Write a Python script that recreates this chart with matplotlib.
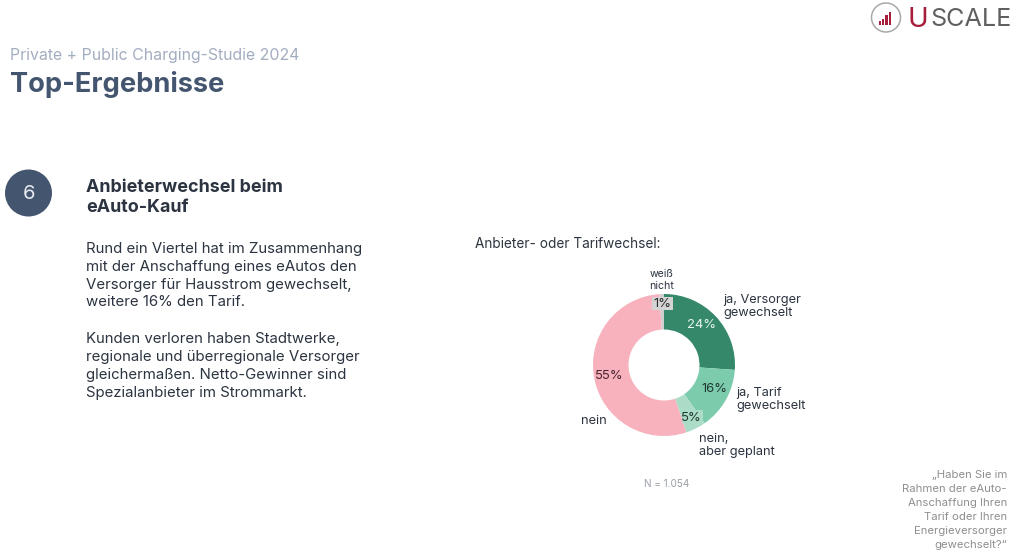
import matplotlib
matplotlib.use("Agg")
import matplotlib.pyplot as plt
from matplotlib.patches import Circle, Rectangle

plt.rcParams['font.family'] = ['Inter', 'DejaVu Sans']

W, H = 1024, 559
categories = ["ja, Versorger\ngewechselt", "ja, Tarif\ngewechselt", "nein,\naber geplant", "nein", "weiß\nnicht"]
percent_labels = ["24%", "16%", "5%", "55%", "1%"]
# slice sizes as drawn in the picture (share of the ring)
drawn_shares = [26.1, 14.2, 4.6, 54.1, 1.0]
colors = ["#35896a", "#7ccbad", "#abdcc8", "#f7b2be", "#cfcfcf"]
logo_bars = [3, 5, 8, 11]

fig = plt.figure(figsize=(W / 100, H / 100), dpi=100, facecolor="white")
bg = fig.add_axes([0, 0, 1, 1])
bg.set_xlim(0, W)
bg.set_ylim(H, 0)
bg.axis("off")
bg.set_zorder(5)

dark = "#2b3440"
slate = "#44566f"

# Header
bg.text(10, 55.5, "Private + Public Charging-Studie 2024", fontsize=11.4, color="#a3adc0", va="center")
bg.text(10, 85, "Top-Ergebnisse", fontsize=19.6, color=slate, fontweight="bold", va="center")

# Number badge
bg.add_patch(Circle((28.5, 193), 23.5, facecolor=slate, edgecolor="none"))
bg.text(28.5, 194, "6", fontsize=14.5, color="#e8ecf2", ha="center", va="center")

# Left text block
bg.text(86.5, 187, "Anbieterwechsel beim", fontsize=12.9, fontweight="bold", color=dark, va="center")
bg.text(86.5, 207, "eAuto-Kauf", fontsize=12.9, fontweight="bold", color=dark, va="center")
para = ["Rund ein Viertel hat im Zusammenhang",
        "mit der Anschaffung eines eAutos den",
        "Versorger für Hausstrom gewechselt,",
        "weitere 16% den Tarif.",
        "",
        "Kunden verloren haben Stadtwerke,",
        "regionale und überregionale Versorger",
        "gleichermaßen. Netto-Gewinner sind",
        "Spezialanbieter im Strommarkt."]
for i, line in enumerate(para):
    bg.text(86.5, 248.5 + i * 18, line, fontsize=10.78, color=dark, va="center")

bg.text(475, 244, "Anbieter- oder Tarifwechsel:", fontsize=9.8, color=dark, va="center")

# Donut
cx, cy, r = 664, 365, 71
pie_ax = fig.add_axes([(cx - r) / W, 1 - (cy + r) / H, 2 * r / W, 2 * r / H])
pie_ax.pie(drawn_shares, colors=colors, startangle=90, counterclock=False, radius=1,
           wedgeprops=dict(width=0.5, linewidth=0))
pie_ax.set_xlim(-1, 1)
pie_ax.set_ylim(-1, 1)
pie_ax.patch.set_alpha(0)

# Percent labels
pct_xy = [(702, 325), (714, 389), (691, 418), (609, 376), (662.5, 304)]
pct_col = ["#e6f4ee", "#1f3a30", "#1f3a30", "#4a2430", "#2b2b2b"]
for s, (x, y), c in zip(percent_labels, pct_xy, pct_col):
    bg.text(x, y, s, fontsize=9.4, color=c, ha="center", va="center", zorder=5)
bg.add_patch(Rectangle((652, 297), 21, 13, facecolor="#d4d4d4", edgecolor="none", zorder=4))
bg.add_patch(Rectangle((682, 410), 21, 13, facecolor="#abdcc8", edgecolor="none", zorder=4))

# Category labels
cat_pos = [(723, 306.5, 9.2), (736, 399.5, 9.2), (699, 445.5, 9.2), (581, 421, 9.2), (662, 280, 7.6)]
for s, (x, y, fs), i in zip(categories, cat_pos, range(5)):
    bg.text(x, y, s, fontsize=fs, color=dark, ha="center" if i == 4 else "left",
            va="center", linespacing=1.15)

bg.text(667, 484, "N = 1.054", fontsize=7.2, color="#9aa0a8", ha="center", va="center")

# Question note
note = ["„Haben Sie im", "Rahmen der eAuto-", "Anschaffung Ihren", "Tarif oder Ihren", "Energieversorger", "gewechselt?“"]
for i, line in enumerate(note):
    bg.text(1007, 475.5 + i * 14, line, fontsize=8.15, color="#8f8f8f", ha="right", va="center")

# Logo
bg.add_patch(Circle((886, 17.5), 14.5, facecolor="white", edgecolor="#a8a8a8", linewidth=1.1))
for i, h in enumerate(logo_bars):
    bg.add_patch(Rectangle((878.5 + i * 3.4, 25 - h * 1.2), 2.4, h * 1.2, facecolor="#a61e3c", edgecolor="none"))
bg.text(907, 20, "U", fontsize=20, color="#a61e3c", va="center")
bg.text(930, 20, "SCALE", fontsize=18.1, color="#5f5f5f", va="center")

fig.savefig("out.png", dpi=100, facecolor="white")
